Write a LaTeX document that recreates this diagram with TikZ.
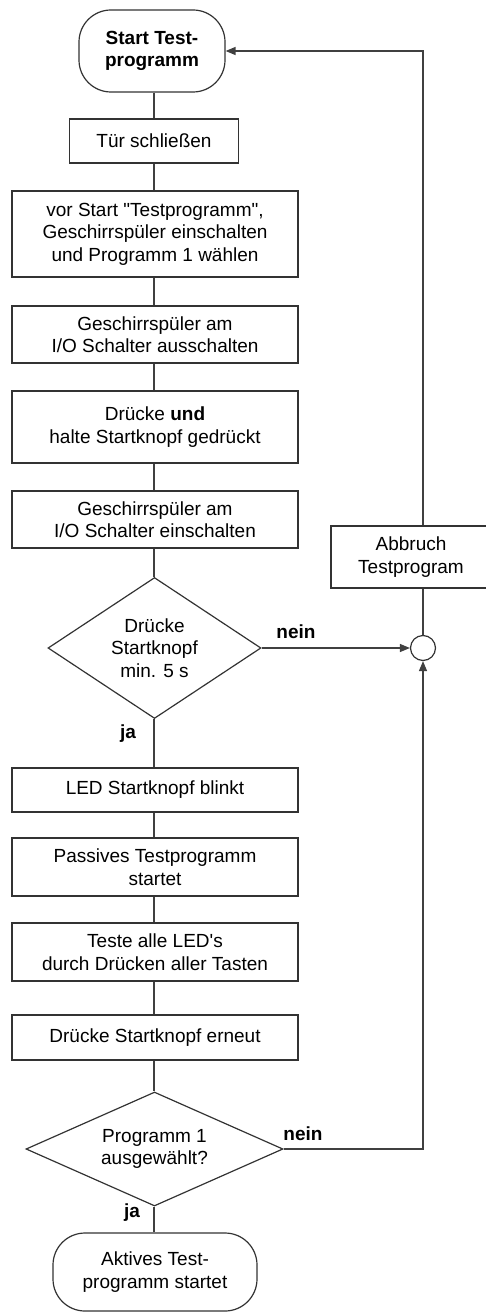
\documentclass[tikz,border=0pt]{standalone}
\usepackage{fontspec}
\newfontfamily\mainf{Liberation Sans}
\usetikzlibrary{shapes.geometric,arrows.meta}
\begin{document}
\begin{tikzpicture}[x=1pt,y=-1pt,
  line/.style={draw=black!75, line width=1.3pt},
  arr/.style={line, -{Triangle[length=10pt,width=8pt]}},
  txt/.style={font=\mainf\fontsize{19}{22.5}\selectfont, align=center, inner sep=0pt},
  proc/.style={txt, draw=black!80, line width=1.2pt, rectangle, minimum width=286pt},
  term/.style={txt, draw=black!80, line width=1.2pt, rectangle, rounded corners=32pt},
  dec/.style={txt, draw=black!80, line width=1.2pt, diamond},
  junc/.style={circle, draw=black!80, line width=1.2pt, fill=white, minimum size=25pt, inner sep=0pt},
  lbl/.style={font=\mainf\bfseries\fontsize{19}{22}\selectfont, inner sep=0pt}
]
\useasboundingbox (0,0) rectangle (486,1313);
\clip (0,0) rectangle (486,1313);

\node[term, font=\mainf\bfseries\fontsize{19}{22.5}\selectfont, minimum width=146pt, minimum height=82pt] (start) at (152,51) {Start Test-\\programm};
\node[proc, minimum width=169pt, minimum height=44pt] (b1) at (154,141) {Tür schließen};
\node[proc, minimum height=86pt] (b2) at (155,234) {vor Start "Testprogramm",\\Geschirrspüler einschalten\\und Programm 1 wählen};
\node[proc, minimum height=57pt] (b3) at (155,334.5) {Geschirrspüler am\\I/O Schalter ausschalten};
\node[proc, minimum height=72pt] (b4) at (155,427) {Drücke \textbf{und}\\halte Startknopf gedrückt};
\node[proc, minimum height=57pt] (b5) at (155,519.5) {Geschirrspüler am\\I/O Schalter einschalten};
\node[dec, aspect=1.51, minimum width=213pt, minimum height=141pt] (d1) at (154.5,648) {Drücke\\Startknopf\\min. 5 s};
\node[proc, minimum height=44pt] (b6) at (155,790) {LED Startknopf blinkt};
\node[proc, minimum height=58pt] (b7) at (155,867) {Passives Testprogramm\\startet};
\node[proc, minimum height=58pt] (b8) at (155,952) {Teste alle LED's\\durch Drücken aller Tasten};
\node[proc, minimum height=45pt] (b9) at (155,1037.5) {Drücke Startknopf erneut};
\node[dec, aspect=2.25, minimum width=257pt, minimum height=114pt] (d2) at (154.5,1149) {Programm 1\\ausgewählt?};
\node[term, minimum width=204pt, minimum height=78pt] (end) at (155,1272) {Aktives Test-\\programm startet};
\node[proc, minimum width=160pt, minimum height=62pt] (abort) at (411,557) {Abbruch\\Testprogram};
\node[junc] (j) at (423,648) {};

\node[lbl] (nein1) at (296,632) {nein};
\node[lbl] (ja1) at (128,734) {ja};
\node[lbl] (nein2) at (303,1134) {nein};
\node[lbl] (ja2) at (132,1213) {ja};

\draw[line] (start.south -| b1.north) -- (b1.north);
\draw[line] (b1.south) -- (b1.south |- b2.north);
\draw[line] (b1.south |- b2.south) -- (b1.south |- b3.north);
\draw[line] (b1.south |- b3.south) -- (b1.south |- b4.north);
\draw[line] (b1.south |- b4.south) -- (b1.south |- b5.north);
\draw[line] (b1.south |- b5.south) -- (b1.south |- d1.north);
\draw[line] (b1.south |- d1.south) -- (b1.south |- b6.north);
\draw[line] (b1.south |- b6.south) -- (b1.south |- b7.north);
\draw[line] (b1.south |- b7.south) -- (b1.south |- b8.north);
\draw[line] (b1.south |- b8.south) -- (b1.south |- b9.north);
\draw[line] (b1.south |- b9.south) -- (b1.south |- d2.north);
\draw[line] (b1.south |- d2.south) -- (b1.south |- end.north);

\draw[arr] (d1.east) -- (j.west);
\draw[arr] (d2.east) -- (d2.east -| j.south) -- (j.south);
\draw[line] (j.north) -- (j.north |- abort.south);
\draw[arr] (j.north |- abort.north) -- (j.north |- start.east) -- (start.east);
\end{tikzpicture}
\end{document}
